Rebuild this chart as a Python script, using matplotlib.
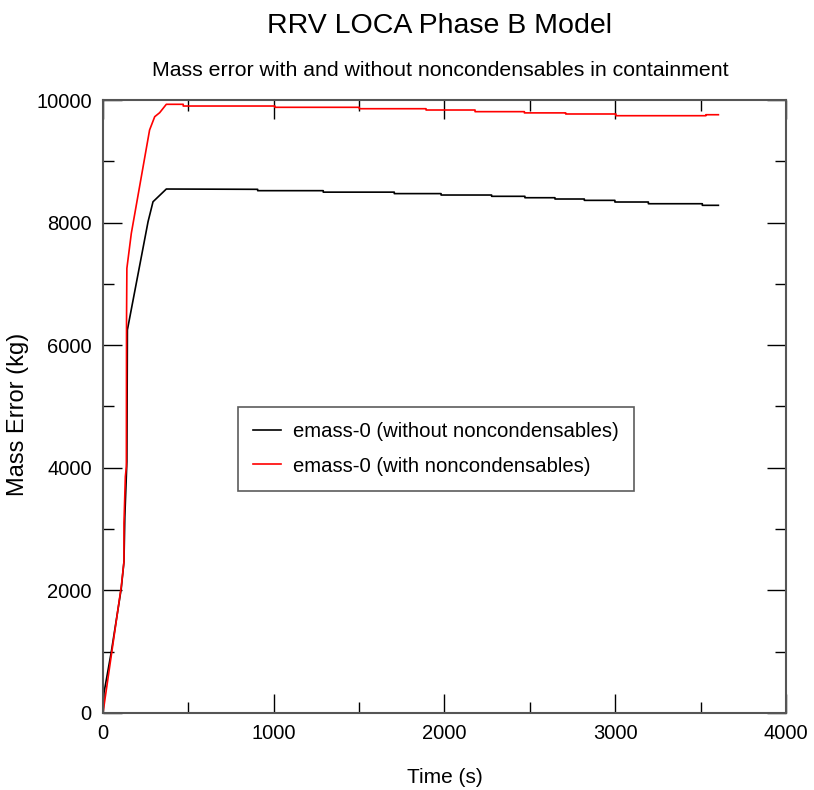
import matplotlib
matplotlib.use('Agg')
import matplotlib.pyplot as plt
from matplotlib.ticker import MultipleLocator

# mass error data (time in s, mass in kg)
time_without = [0, 6, 49, 107, 123, 128, 140, 143, 264, 293, 371,
                906, 906, 1290, 1290, 1706, 1706, 1980, 1980, 2276, 2276,
                2471, 2471, 2647, 2647, 2819, 2819, 2998, 2998, 3194, 3194,
                3510, 3510, 3604]
mass_without = [0, 330, 1000, 2030, 2470, 3200, 4100, 6250, 8015, 8340, 8548,
                8543, 8521, 8521, 8497, 8497, 8473, 8473, 8450, 8450, 8429,
                8429, 8406, 8406, 8385, 8385, 8363, 8363, 8336, 8336, 8308,
                8308, 8282, 8282]

time_with = [0, 107, 123, 123, 131, 137, 138, 140, 166, 273, 303, 332, 371,
             470, 470, 1007, 1007, 1501, 1501, 1892, 1892, 2179, 2179,
             2468, 2468, 2710, 2710, 3004, 3004, 3531, 3531, 3604]
mass_with = [0, 2060, 2468, 3095, 3855, 4018, 6400, 7254, 7825, 9511, 9728, 9793, 9930,
             9930, 9902, 9902, 9881, 9881, 9858, 9858, 9837, 9837, 9810,
             9810, 9790, 9790, 9772, 9772, 9744, 9744, 9760, 9760]

xticks = [0, 1000, 2000, 3000, 4000]
yticks = [0, 2000, 4000, 6000, 8000, 10000]

plt.rcParams['font.family'] = ['Liberation Sans', 'DejaVu Sans']

fig = plt.figure(figsize=(8.14, 7.90), dpi=100)
ax = fig.add_axes([0.1265, 0.0975, 0.8391, 0.7759])

ax.plot(time_without, mass_without, color='black', lw=1.2,
        label='emass-0 (without noncondensables)')
ax.plot(time_with, mass_with, color='#ff0000', lw=1.2,
        label='emass-0 (with noncondensables)')

ax.set_xlim(0, 4000)
ax.set_ylim(0, 10000)
ax.set_xticks(xticks)
ax.set_yticks(yticks)
ax.xaxis.set_minor_locator(MultipleLocator(500))
ax.yaxis.set_minor_locator(MultipleLocator(1000))
ax.tick_params(which='both', direction='in', top=True, right=True, width=1, color='black')
ax.tick_params(which='major', length=14, labelsize=14.5, pad=8)
ax.tick_params(which='minor', length=8)
for s in ax.spines.values():
    s.set_color('#555555')
    s.set_linewidth(1.5)

ax.set_xlabel('Time (s)', fontsize=15, labelpad=18)
ax.set_ylabel('Mass Error (kg)', fontsize=17)
ax.yaxis.set_label_coords(-0.109, 0.487)

fig.text(0.5405, 0.967, 'RRV LOCA Phase B Model', ha='center', va='center', fontsize=20.5)
fig.text(0.5405, 0.911, 'Mass error with and without noncondensables in containment',
         ha='center', va='center', fontsize=15.3)

leg = ax.legend(loc='upper left', bbox_to_anchor=(0.198, 0.499), fontsize=14.6,
                frameon=True, fancybox=False, handlelength=1.35, handletextpad=0.6,
                borderpad=0.75, labelspacing=0.75, borderaxespad=0)
leg.get_frame().set_edgecolor('#333333')
leg.get_frame().set_linewidth(1.2)

fig.savefig('out.png', dpi=100)
